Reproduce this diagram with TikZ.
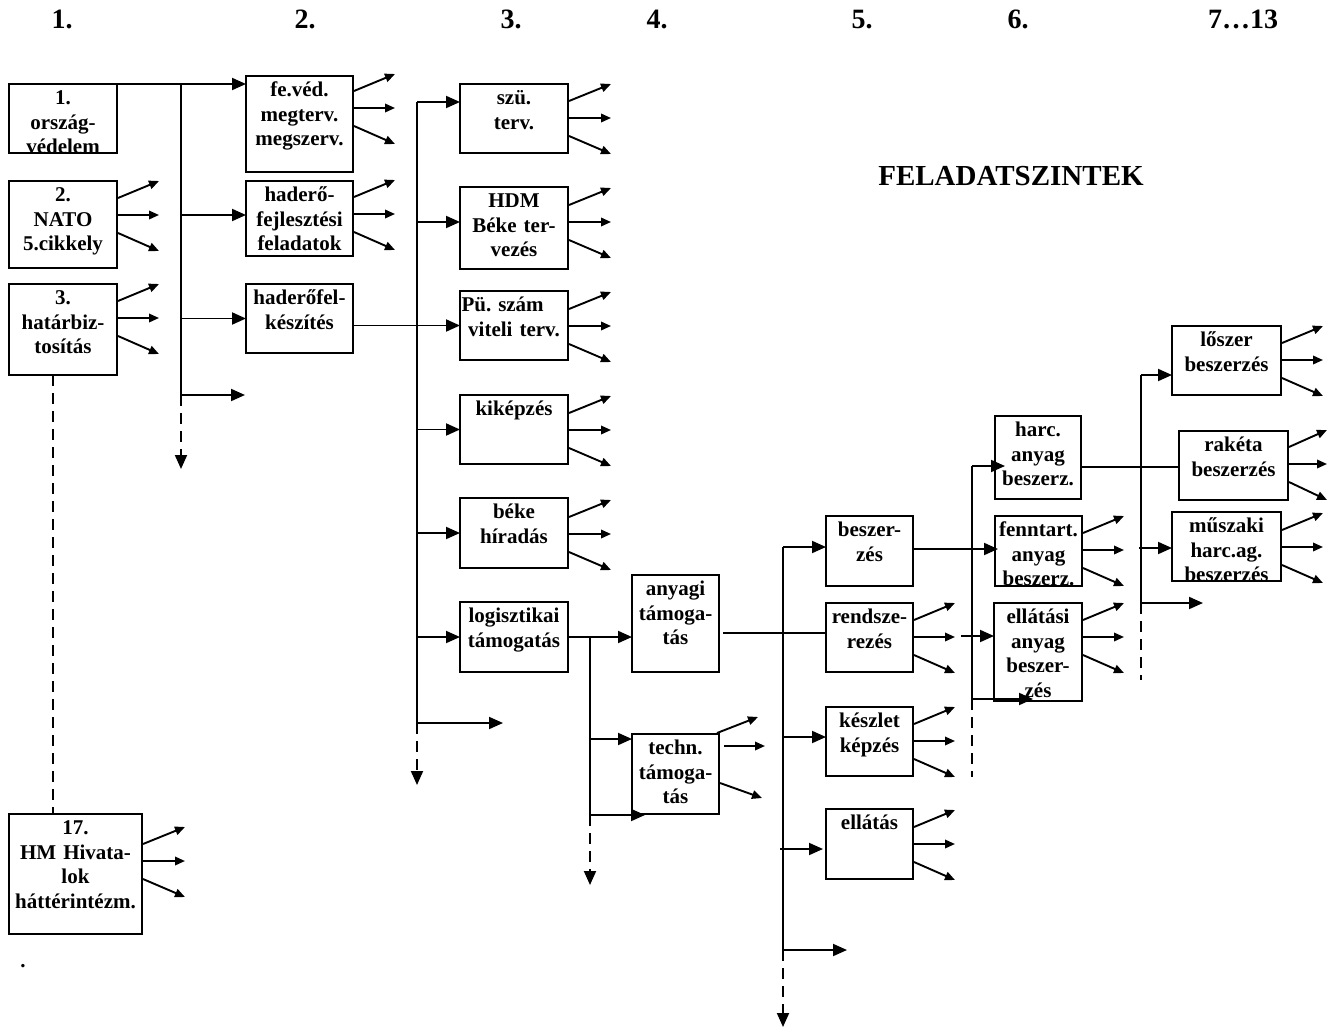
\documentclass[tikz,border=0pt]{standalone}
\usepackage{fontspec}
\setmainfont{Liberation Serif}
\usetikzlibrary{arrows.meta,calc}
\frenchspacing
\tikzset{
  boxs/.style={draw=black,line width=1.9pt,anchor=north west,inner sep=0pt,outer sep=0pt},
  boxtext/.style={inner sep=0pt,outer sep=0pt,align=center,anchor=north,
    font=\bfseries\fontsize{21}{24.5}\selectfont},
  conn/.style={line width=1.9pt},
  bigarr/.style={-{Triangle[length=14pt,width=12pt]}},
  smallarr/.style={-{Triangle[length=10pt,width=8.5pt]}},
  dashbus/.style={line width=1.9pt,dash pattern=on 11pt off 7pt},
  hdr/.style={anchor=base,inner sep=0pt,font=\bfseries\fontsize{28}{32}\selectfont},
}
\newcommand\bx[6]{%
  \node[boxs,minimum width=#4pt,minimum height=#5pt] (#1) at (#2,#3) {};
  \node[boxtext,text width=#4pt] (#1t) at ($(#1.north)+(0,3.4)$) {\strut #6};
}
\newcommand\fan[3]{%
  \coordinate (#1f) at (#1.east |- 0,#2);
  \draw[conn,smallarr] ($(#1f)+(1,-17)$) -- ++(#3,-17);
  \draw[conn,smallarr] ($(#1f)+(1,0)$) -- ++(#3,0);
  \draw[conn,smallarr] ($(#1f)+(1,18)$) -- ++(#3,18);
}
\begin{document}
\begin{tikzpicture}[x=1pt,y=-1pt]
\fill[white] (0,0) rectangle (1330,1030);
\useasboundingbox (0,0) rectangle (1330,1030);

% headers
\node[hdr] (h1) at (62,29) {1.};
\node[hdr] (h2) at (305,29) {2.};
\node[hdr] (h3) at (511,29) {3.};
\node[hdr] (h4) at (657,29) {4.};
\node[hdr] (h5) at (862,29) {5.};
\node[hdr] (h6) at (1018,29) {6.};
\node[hdr] (h7) at (1243,29) {7…13};
\node[anchor=base,inner sep=0pt,font=\bfseries\fontsize{29}{32}\selectfont] (title) at (1011,185) {FELADATSZINTEK};

% column 1
\bx{b1}{9}{84}{108}{69}{1.\\ország-\\védelem}
\bx{b2}{9}{181}{108}{87}{2.\\NATO\\5.cikkely}
\bx{b3}{9}{284}{108}{91}{3.\\határbiz-\\tosítás}
\bx{b17}{9}{814}{133}{120}{17.\\HM Hivata-\\lok\\háttérintézm.}
\node[anchor=base,inner sep=0pt,font=\bfseries\fontsize{21}{24.5}\selectfont] (dot) at (23,967) {.};

% column 2
\bx{fev}{246}{76}{107}{96}{fe.véd.\\megterv.\\megszerv.}
\bx{hdf}{246}{181}{107}{75}{haderő-\\fejlesztési\\feladatok}
\bx{hfk}{246}{284}{107}{69}{haderőfel-\\készítés}

% column 3
\bx{szu}{460}{84}{108}{69}{szü.\\terv.}
\bx{hdm}{460}{187}{108}{82}{HDM\\Béke ter-\\vezés}
\bx{pu}{460}{291}{108}{69}{\hbox to\hsize{\kern1.5pt Pü. szám\hfil}\\viteli terv.}
\bx{kik}{460}{395}{108}{69}{kiképzés}
\bx{bek}{460}{498}{108}{70}{béke\\híradás}
\bx{log}{460}{602}{108}{70}{logisztikai\\támogatás}

% column 4
\bx{any}{632}{575}{87}{97}{anyagi\\támoga-\\tás}
\bx{tec}{632}{734}{87}{80}{techn.\\támoga-\\tás}

% column 5
\bx{bsz}{826}{516}{87}{70}{beszer-\\zés}
\bx{ren}{826}{603}{87}{69}{rendsze-\\rezés}
\bx{kes}{826}{707}{87}{69}{készlet\\képzés}
\bx{ell}{826}{809}{87}{70}{ellátás}

% column 6
\bx{har}{995}{416}{86}{83}{harc.\\anyag\\beszerz.}
\bx{fen}{995}{516}{87}{70}{fenntart.\\anyag\\beszerz.}
\bx{ela}{994}{603}{88}{98}{ellátási\\anyag\\beszer-\\zés}

% column 7
\bx{los}{1172}{326}{109}{69}{lőszer\\beszerzés}
\bx{rak}{1179}{431}{109}{69}{rakéta\\beszerzés}
\bx{mus}{1172}{512}{109}{69}{műszaki\\harc.ag.\\beszerzés}

% fans
\fan{b2}{215}{41}
\fan{b3}{318}{41}
\fan{b17}{861}{42}
\fan{fev}{108}{41}
\fan{hdf}{214}{41}
\fan{szu}{118}{42}
\fan{hdm}{222}{42}
\fan{pu}{326}{42}
\fan{kik}{430}{42}
\fan{bek}{534}{42}
\fan{ren}{637}{41}
\fan{kes}{741}{41}
\fan{ell}{844}{41}
\fan{fen}{550}{41}
\fan{ela}{637}{41}
\fan{los}{360}{41}
\fan{rak}{464}{38}
\fan{mus}{547}{41}
\draw[conn,smallarr] ($(tec.north east)+(-2,-1)$) -- ++(41,-16);
\draw[conn,smallarr] ($(tec.north east)+(5,12)$) -- ++(41,0);
\draw[conn,smallarr] ($(tec.north east)+(1,49)$) -- ++(42,15);

% link 3 -> 17
\coordinate (v3) at ($(b3.south west)+(44,0)$);
\draw[dashbus] (v3) -- (v3 |- b17.north);

% bus 1
\coordinate (bus1top) at (181,84);
\coordinate (bus1bot) at (181,395);
\coordinate (bus1end) at (181,469);
\coordinate (hdfin) at ($(hdf.north west)+(0,34)$);
\draw[conn,bigarr] (b1.north east) -- (b1.north east -| fev.west);
\draw[conn] (bus1top) -- (bus1bot);
\draw[conn,bigarr] (bus1top |- hdfin) -- (hdfin);
\draw[conn,bigarr] (bus1top |- hfk.west) -- (hfk.west);
\draw[conn,bigarr] (bus1bot) -- ++(64,0);
\draw[dashbus,bigarr] (bus1bot) -- (bus1end);

% bus 2
\coordinate (bus2top) at (417,102);
\coordinate (bus2bot) at (417,723);
\coordinate (bus2end) at (417,785);
\coordinate (hdmin) at ($(hdm.north west)+(0,35)$);
\draw[conn] (bus2top) -- (bus2bot);
\draw[conn,bigarr] (bus2top) -- (bus2top -| szu.west);
\draw[conn,bigarr] (bus2top |- hdmin) -- (hdmin);
\draw[conn,bigarr] (hfk.east |- pu.west) -- (pu.west);
\draw[conn,bigarr] (bus2top |- kik.west) -- (kik.west);
\draw[conn,bigarr] (bus2top |- bek.west) -- (bek.west);
\draw[conn,bigarr] (bus2top |- log.west) -- (log.west);
\draw[conn,bigarr] (bus2bot) -- ++(86,0);
\draw[dashbus,bigarr] (bus2bot) -- (bus2end);

% bus 3
\coordinate (bus3top) at (590,637);
\coordinate (bus3bot) at (590,815);
\coordinate (bus3end) at (590,885);
\coordinate (tecin) at ($(tec.north west)+(0,5)$);
\draw[conn,bigarr] (log.east) -- (log.east -| any.west);
\draw[conn] (bus3top) -- (bus3bot);
\draw[conn,bigarr] (bus3top |- tecin) -- (tecin);
\draw[conn,bigarr] (bus3bot) -- ($(tec.south west)+(13,1)$);
\draw[dashbus,bigarr] (bus3bot) -- (bus3end);

% bus 4
\coordinate (anyout) at ($(any.north east)+(4,58)$);
\draw[conn] (anyout) -- (anyout -| ren.west);
\coordinate (bus4top) at (783,547);
\coordinate (bus4bot) at (783,950);
\coordinate (bus4end) at (783,1027);
\coordinate (kesin) at ($(kes.north west)+(0,30)$);
\coordinate (ellin) at ($(ell.north west)+(-3,40)$);
\draw[conn] (bus4top) -- (bus4bot);
\draw[conn,bigarr] (bus4top) -- (bus4top -| bsz.west);
\draw[conn,bigarr] (bus4top |- kesin) -- (kesin);
\draw[conn,bigarr] ($(bus4top |- ellin)+(-3,0)$) -- (ellin);
\draw[conn,bigarr] (bus4bot) -- ++(64,0);
\draw[dashbus,bigarr] (bus4bot) -- (bus4end);

% bus 5
\coordinate (bszout) at ($(bsz.north east)+(0,33)$);
\draw[conn,bigarr] (bszout) -- ($(bszout -| fen.west)+(3,0)$);
\coordinate (bus5top) at (972,466);
\coordinate (bus5bot) at (972,699);
\coordinate (bus5end) at (972,777);
\coordinate (elain) at ($(ela.north west)+(0,33)$);
\draw[conn] (bus5top) -- (bus5bot);
\draw[conn,bigarr] (bus5top) -- ($(bus5top -| har.west)+(10,0)$);
\draw[conn,bigarr] ($(elain)+(-33,0)$) -- (elain);
\draw[conn,bigarr] (bus5bot) -- ++(61,0);
\draw[dashbus] (bus5bot) -- (bus5end);

% bus 6
\coordinate (harout) at ($(har.north east)+(0,51)$);
\draw[conn] (harout) -- (harout -| rak.west);
\coordinate (bus6top) at (1141,375);
\coordinate (bus6bot) at (1141,603);
\coordinate (bus6end) at (1141,680);
\coordinate (musin) at ($(mus.north west)+(0,36)$);
\draw[conn] (bus6top) -- (bus6bot);
\draw[conn,bigarr] (bus6top) -- (bus6top -| los.west);
\draw[conn,bigarr] ($(musin)+(-33,0)$) -- (musin);
\draw[conn,bigarr] (bus6bot) -- ++(62,0);
\draw[dashbus] (bus6bot) -- (bus6end);
\end{tikzpicture}
\end{document}
